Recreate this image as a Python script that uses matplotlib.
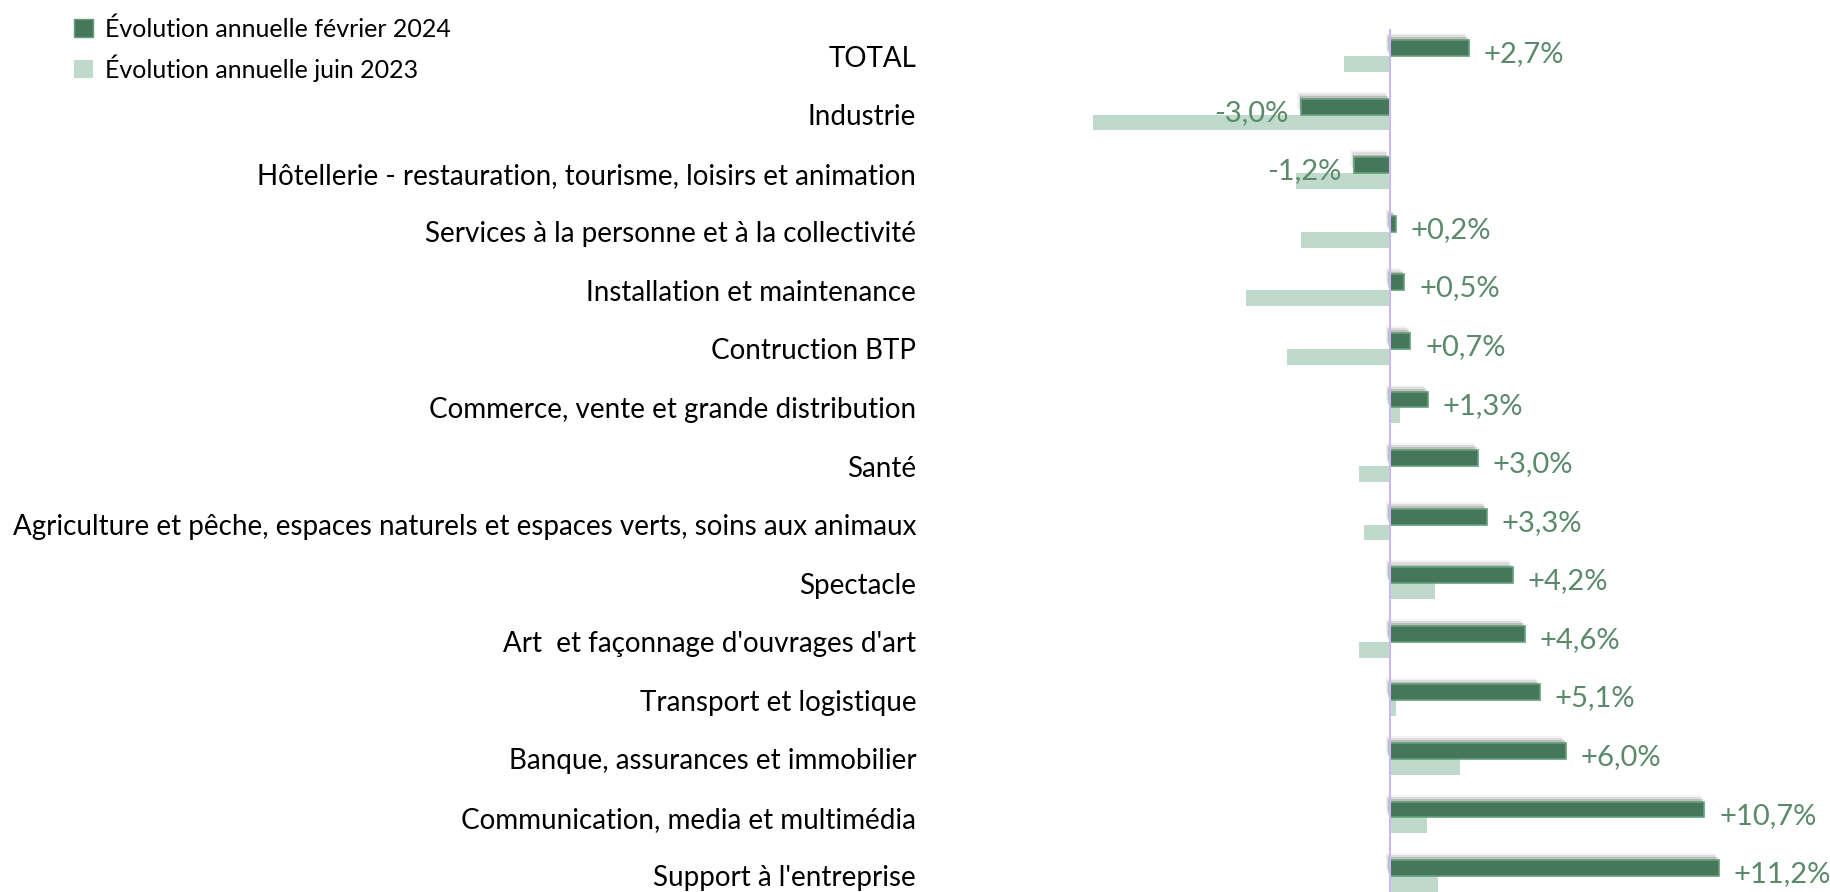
import matplotlib
matplotlib.use("Agg")
import matplotlib.pyplot as plt
import matplotlib.patheffects as pe
from matplotlib.patches import Patch

plt.rcParams['font.family'] = ['Lato', 'DejaVu Sans']

categories = ["TOTAL", "Industrie",
              "Hôtellerie - restauration, tourisme, loisirs et animation",
              "Services à la personne et à la collectivité",
              "Installation et maintenance", "Contruction BTP",
              "Commerce, vente et grande distribution", "Santé",
              "Agriculture et pêche, espaces naturels et espaces verts, soins aux animaux",
              "Spectacle", "Art  et façonnage d'ouvrages d'art",
              "Transport et logistique", "Banque, assurances et immobilier",
              "Communication, media et multimédia", "Support à l'entreprise"]
fev_2024 = [2.7, -3.0, -1.2, 0.2, 0.5, 0.7, 1.3, 3.0, 3.3, 4.2, 4.6, 5.1, 6.0, 10.7, 11.2]
juin_2023 = [-1.55, -10.1, -3.2, -3.0, -4.9, -3.5, 0.35, -1.05, -0.86, 1.53, -1.05, 0.23, 2.4, 1.27, 1.64]

dark = "#46775a"
dark_edge = "#62a07a"
light = "#bfdacb"
txt_green = "#5a8a6a"

fig = plt.figure(figsize=(18.31, 8.92), dpi=100)
ax = fig.add_axes([919 / 1831, 0, (1831 - 919) / 1831, 1])

y = list(range(len(categories)))
h = 0.27
# soft shadow built from a few offset, faint copies
shadow = [pe.SimplePatchShadow(offset=(-3, 5), shadow_rgbFace="#666666", alpha=0.08),
          pe.SimplePatchShadow(offset=(-2, 3.5), shadow_rgbFace="#555555", alpha=0.14),
          pe.SimplePatchShadow(offset=(-1, 2), shadow_rgbFace="#444444", alpha=0.2),
          pe.Normal()]
ax.barh([v + h / 2 for v in y], juin_2023, height=h, color=light, zorder=2)
bars = ax.barh([v - h / 2 for v in y], fev_2024, height=h, color=dark,
               edgecolor=dark_edge, linewidth=1.2, zorder=3)
for b in bars:
    b.set_path_effects(shadow)

for i, v in enumerate(fev_2024):
    lab = ("+" if v > 0 else "-") + ("%.1f%%" % abs(v)).replace(".", ",")
    if v >= 0:
        ax.text(v + 0.5, i - 0.03, lab, ha="left", va="center", fontsize=21,
                color=txt_green, zorder=4)
    else:
        ax.text(v - 0.45, i - 0.03, lab, ha="right", va="center", fontsize=21,
                color=txt_green, zorder=4)

ax.vlines(0, -0.46, 14.6, color="#cbb8f0", linewidth=1.5, zorder=4)

ax.set_xlim(-16, 15)
ax.set_ylim(14 + 16 / 58.57, -56 / 58.57)
ax.set_yticks(y)
ax.set_yticklabels(categories, fontsize=20)
ax.tick_params(axis="y", length=0, pad=2)
ax.set_xticks([])
for s in ax.spines.values():
    s.set_visible(False)

handles = [Patch(facecolor=dark, edgecolor=dark_edge, label="Évolution annuelle février 2024"),
           Patch(facecolor=light, label="Évolution annuelle juin 2023")]
fig.legend(handles=handles, loc="upper left", bbox_to_anchor=(0.028, 1.006),
           frameon=False, fontsize=18, handlelength=0.75, handleheight=0.75,
           handletextpad=0.5, labelspacing=0.55)

fig.savefig("out.png", dpi=100)
